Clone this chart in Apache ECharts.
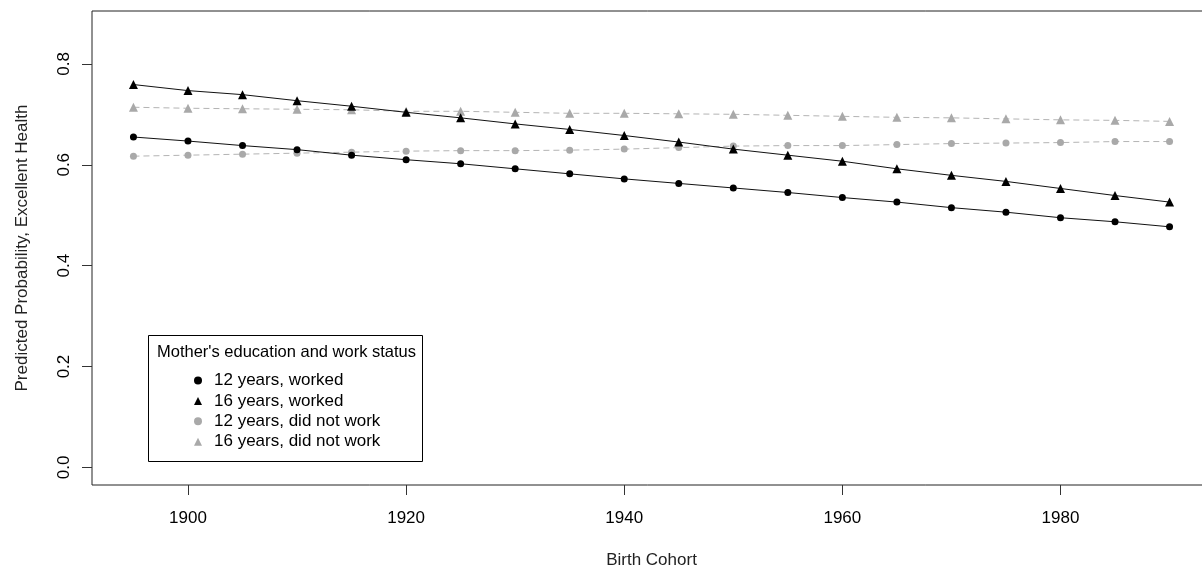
<!DOCTYPE html>
<html>
<head>
<meta charset="utf-8">
<script src="https://cdn.jsdelivr.net/npm/echarts@6/dist/echarts.min.js"></script>
<style>
html,body{margin:0;padding:0;background:#fff;}
#chart{width:1202px;height:569px;}
</style>
</head>
<body>
<div id="chart"></div>
<script>
const years = [1895,1900,1905,1910,1915,1920,1925,1930,1935,1940,1945,1950,1955,1960,1965,1970,1975,1980,1985,1990];
const worked12 = [0.655,0.647,0.638,0.630,0.619,0.610,0.602,0.592,0.582,0.572,0.563,0.554,0.545,0.535,0.526,0.515,0.506,0.495,0.487,0.477];
const worked16 = [0.759,0.747,0.739,0.727,0.716,0.704,0.693,0.681,0.670,0.658,0.645,0.631,0.619,0.607,0.592,0.579,0.567,0.553,0.539,0.526];
const notWorked12 = [0.617,0.619,0.621,0.623,0.625,0.627,0.628,0.628,0.629,0.631,0.634,0.637,0.638,0.638,0.640,0.642,0.643,0.644,0.646,0.646];
const notWorked16 = [0.714,0.712,0.711,0.710,0.709,0.706,0.706,0.704,0.702,0.702,0.701,0.700,0.698,0.696,0.694,0.693,0.691,0.689,0.688,0.686];
const xTicks = [1900,1920,1940,1960,1980];
const yTicks = [0,0.2,0.4,0.6,0.8];
const seriesNames = ['12 years, worked','16 years, worked','12 years, did not work','16 years, did not work'];

const FONT = '"Liberation Sans", Arial, sans-serif';
const BLACK = '#000000';
const GRAY = '#a9a9a9';

function pairs(vals){ return years.map((y,i)=>[y, vals[i]]); }

function mkSeries(name, vals, color, symbol, size, dashed){
  return {
    name: name, type: 'line', data: pairs(vals),
    symbol: symbol, symbolSize: size,
    itemStyle: {color: color},
    lineStyle: {color: dashed ? '#b4b4b4' : '#111', width: 1, type: dashed ? [6,4] : 'solid'},
    emphasis: {disabled: true},
    animation: false, z: dashed ? 2 : 3
  };
}

const chart = echarts.init(document.getElementById('chart'), null, {renderer:'canvas'});
chart.setOption({
  animation: false,
  backgroundColor: '#ffffff',
  textStyle: {fontFamily: FONT},
  grid: {left: 92, top: 11, width: 1119, height: 474, show: true, borderColor: '#222', borderWidth: 1, backgroundColor: 'transparent', containLabel: false, outerBoundsMode: 'none'},
  xAxis: {
    type: 'value', min: 1891.2, max: 1993.8,
    name: 'Birth Cohort', nameLocation: 'middle', nameGap: 67,
    nameTextStyle: {fontSize: 17, color: '#222', fontFamily: FONT},
    axisLine: {show: false, onZero: false},
    splitLine: {show: false},
    axisTick: {show: true, length: 10, customValues: xTicks, lineStyle: {color: '#333'}},
    axisLabel: {customValues: xTicks, fontSize: 17, color: '#000', margin: 25, fontFamily: FONT,
      formatter: v => String(v)}
  },
  yAxis: {
    type: 'value', min: -0.0348, max: 0.9048,
    name: 'Predicted Probability, Excellent Health', nameLocation: 'middle', nameGap: 61,
    nameTextStyle: {fontSize: 17, color: '#222', fontFamily: FONT},
    axisLine: {show: false, onZero: false},
    splitLine: {show: false},
    axisTick: {show: true, length: 10, customValues: yTicks, lineStyle: {color: '#333'}},
    axisLabel: {customValues: yTicks, rotate: 90, fontSize: 17, color: '#000', margin: 19, fontFamily: FONT,
      formatter: v => Number(v).toFixed(1)}
  },
  legend: {
    show: true, orient: 'vertical', left: 194, top: 372, padding: 0,
    itemWidth: 8, itemHeight: 8, itemGap: 3.4,
    selectedMode: false,
    data: [
      {name: seriesNames[0], icon: 'circle'},
      {name: seriesNames[1], icon: 'triangle'},
      {name: seriesNames[2], icon: 'circle'},
      {name: seriesNames[3], icon: 'triangle'}
    ],
    textStyle: {fontSize: 17, color: '#000', fontFamily: FONT, lineHeight: 17, padding: [0,0,0,7]}
  },
  graphic: [
    {type: 'rect', shape: {x: 148.5, y: 335.5, width: 274, height: 126}, style: {fill: 'none', stroke: '#000', lineWidth: 1}, z: 100},
    {type: 'text', x: 157, y: 352, style: {text: "Mother's education and work status", font: '16.5px ' + FONT, fill: '#000', verticalAlign: 'middle'}, z: 100}
  ],
  series: [
    mkSeries(seriesNames[0], worked12, BLACK, 'circle', 7, false),
    mkSeries(seriesNames[1], worked16, BLACK, 'triangle', 9, false),
    mkSeries(seriesNames[2], notWorked12, GRAY, 'circle', 7, true),
    mkSeries(seriesNames[3], notWorked16, GRAY, 'triangle', 9, true)
  ]
});
</script>
</body>
</html>
